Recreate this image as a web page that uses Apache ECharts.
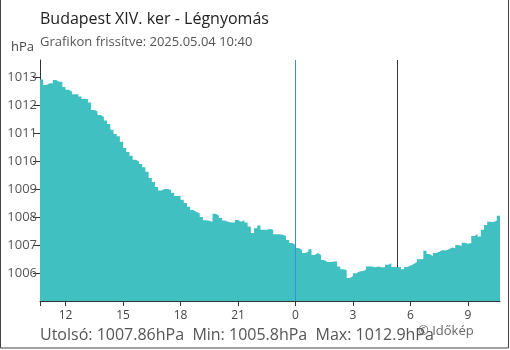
<!DOCTYPE html>
<html>
<head>
<meta charset="utf-8">
<script src="https://cdn.jsdelivr.net/npm/echarts@6/dist/echarts.min.js"></script>
<style>
  html, body { margin: 0; padding: 0; background: #fff; }
  #chart { width: 510px; height: 350px; }
</style>
</head>
<body>
<div id="chart"></div>
<script>
  // mérési adatok: 10 percenként, 2025.05.03 10:40-tól
  const startHour = 10 + 40 / 60;
  const stepMinutes = 10;
  const pressure = [
    1012.90, 1012.71, 1012.77, 1012.77, 1012.89, 1012.82, 1012.82, 1012.64, 1012.54, 1012.48,
    1012.38, 1012.38, 1012.30, 1012.21, 1012.21, 1012.08, 1011.82, 1011.76, 1011.64, 1011.57,
    1011.44, 1011.32, 1011.11, 1010.96, 1010.88, 1010.68, 1010.46, 1010.32, 1010.18, 1010.04,
    1009.98, 1009.89, 1009.77, 1009.61, 1009.39, 1009.25, 1009.07, 1008.94, 1009.00, 1009.00,
    1008.96, 1008.86, 1008.75, 1008.75, 1008.61, 1008.50, 1008.36, 1008.25, 1008.18, 1008.13,
    1008.00, 1007.88, 1007.86, 1007.83, 1008.11, 1008.05, 1007.96, 1007.87, 1007.82, 1007.80,
    1007.80, 1007.89, 1007.83, 1007.88, 1007.80, 1007.66, 1007.43, 1007.60, 1007.69, 1007.54,
    1007.54, 1007.57, 1007.54, 1007.38, 1007.38, 1007.36, 1007.32, 1007.18, 1007.07, 1007.00,
    1006.89, 1006.82, 1006.71, 1006.76, 1006.85, 1006.64, 1006.71, 1006.64, 1006.46, 1006.39,
    1006.39, 1006.41, 1006.41, 1006.23, 1006.13, 1006.11, 1005.82, 1005.89, 1005.99, 1006.05,
    1006.07, 1006.11, 1006.23, 1006.23, 1006.20, 1006.23, 1006.20, 1006.20, 1006.29, 1006.35,
    1006.21, 1006.20, 1006.21, 1006.13, 1006.21, 1006.27, 1006.32, 1006.39, 1006.49, 1006.50,
    1006.79, 1006.68, 1006.61, 1006.71, 1006.76, 1006.82, 1006.80, 1006.85, 1006.91, 1006.88,
    1007.00, 1006.96, 1007.08, 1007.04, 1007.07, 1007.32, 1007.39, 1007.30, 1007.54, 1007.71,
    1007.83, 1007.82, 1007.87, 1008.04, 1007.86
  ];
  const hourTicks = [12, 15, 18, 21, 24, 27, 30, 33];
  const yTicks = [1006, 1007, 1008, 1009, 1010, 1011, 1012, 1013];
  const midnight = 24;
  const sunrise = 24 + 5 + 20 / 60;
  const lastValue = '1007.86';
  const minValue = '1005.8';
  const maxValue = '1012.9';

  const points = pressure.map((v, i) => [startHour + i * stepMinutes / 60, v]);
  const endHour = startHour + (pressure.length - 1) * stepMinutes / 60;

  const mychart = echarts.init(document.getElementById('chart'), null, { renderer: 'canvas' });
  mychart.setOption({
    animation: false,
    title: [{
      text: 'Budapest XIV. ker - Légnyomás',
      left: 35, top: 6,
      textStyle: { fontFamily: 'Open Sans', fontSize: 16, fontWeight: 'normal', color: '#222' }
    }, {
      text: 'Grafikon frissítve: 2025.05.04 10:40',
      left: 35, top: 31,
      textStyle: { fontFamily: 'Open Sans', fontSize: 13, fontWeight: 'normal', color: '#555' }
    }],
    grid: { left: 40, right: 10, top: 60, bottom: 49 },
    xAxis: {
      type: 'value',
      min: startHour,
      max: endHour,
      splitLine: { show: false },
      axisLine: { onZero: false, lineStyle: { color: '#333' } },
      axisTick: { length: 5, lineStyle: { color: '#333' }, customValues: [startHour].concat(hourTicks) },
      axisLabel: {
        customValues: hourTicks,
        color: '#444', fontFamily: 'Open Sans', fontSize: 12, margin: 9,
        formatter: v => String(Math.round(v) % 24)
      }
    },
    yAxis: {
      type: 'value',
      min: 1005,
      max: 1013.6,
      name: 'hPa',
      nameGap: 6,
      nameTextStyle: { color: '#444', fontFamily: 'Open Sans', fontSize: 13, align: 'right', padding: [0, 6, 0, 0] },
      splitLine: { show: false },
      axisLine: { show: true, lineStyle: { color: '#333' } },
      axisTick: { show: true, length: 7, lineStyle: { color: '#333' }, customValues: yTicks },
      axisLabel: {
        customValues: yTicks, color: '#555', fontFamily: 'Open Sans', fontSize: 13, margin: 3,
        formatter: v => String(v)
      }
    },
    series: [{
      // napkelte vonal, az oszlopok mögött
      type: 'line',
      data: [],
      z: 1,
      markLine: {
        silent: true, symbol: 'none', z: 1,
        label: { show: false },
        lineStyle: { color: '#333', width: 1, type: 'solid' },
        data: [{ xAxis: sunrise }]
      }
    }, {
      type: 'line',
      data: points,
      step: 'end',
      showSymbol: false,
      z: 3,
      lineStyle: { width: 0 },
      areaStyle: { color: '#41c0c1', opacity: 1, origin: 'start' },
      markLine: {
        silent: true, symbol: 'none', z: 4,
        label: { show: false },
        lineStyle: { color: '#3a8ee0', width: 1, type: 'solid' },
        data: [{ xAxis: midnight }]
      }
    }],
    graphic: [{
      type: 'text',
      left: 40, top: 327,
      style: {
        text: 'Utolsó: ' + lastValue + 'hPa  Min: ' + minValue + 'hPa  Max: ' + maxValue + 'hPa',
        fill: '#555', fontFamily: 'Open Sans', fontSize: 16
      }
    }, {
      type: 'text',
      left: 418, top: 325,
      style: { text: '© Időkép', fill: '#666', fontFamily: 'Open Sans', fontSize: 13 }
    }, {
      type: 'rect',
      silent: true,
      shape: { x: 0.5, y: -2, width: 508, height: 350 },
      style: { fill: 'none', stroke: '#444', lineWidth: 1 }
    }]
  });
</script>
</body>
</html>
